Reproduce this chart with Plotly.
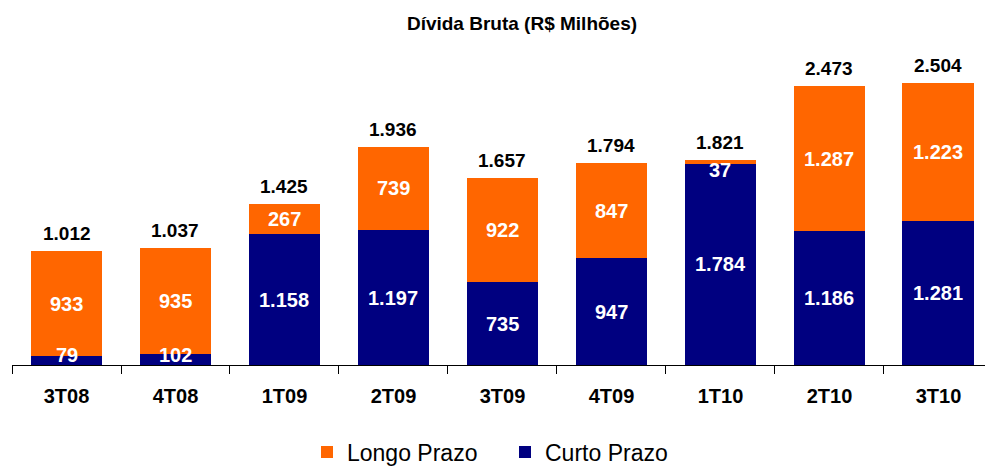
import plotly.graph_objects as go

categories = ["3T08", "4T08", "1T09", "2T09", "3T09", "4T09", "1T10", "2T10", "3T10"]
curto_prazo = [79, 102, 1158, 1197, 735, 947, 1784, 1186, 1281]
longo_prazo = [933, 935, 267, 739, 922, 847, 37, 1287, 1223]
totals = [1012, 1037, 1425, 1936, 1657, 1794, 1821, 2473, 2504]

ORANGE = "#FF6600"
NAVY = "#000080"
FONT = "Arial, Liberation Sans, sans-serif"
Y_MAX = 2795
HALF_LABEL = 88  # half label height in data units (keeps labels inside the bar, like Excel)
PLOT_LEFT, PLOT_TOP, PLOT_BOTTOM = 12, 50, 365
W, H = 985, 467


def fmt(v):
    return f"{v:,}".replace(",", ".")


def clamp(v, lo, hi):
    return max(lo, min(hi, v))


fig = go.Figure()
fig.add_trace(go.Bar(x=categories, y=curto_prazo, name="Curto Prazo", marker_color=NAVY,
                     marker_line_width=0, width=0.66, legendrank=2, hoverinfo="skip"))
fig.add_trace(go.Bar(x=categories, y=longo_prazo, name="Longo Prazo", marker_color=ORANGE,
                     marker_line_width=0, width=0.66, legendrank=1, hoverinfo="skip"))

seg_font = dict(family=FONT, size=20, color="white", weight="bold")
for cat, c, l, t in zip(categories, curto_prazo, longo_prazo, totals):
    y_c = clamp(c / 2, HALF_LABEL, t - HALF_LABEL)
    y_l = clamp(c + l / 2, HALF_LABEL, t - HALF_LABEL)
    fig.add_annotation(x=cat, y=y_c, text=fmt(c), showarrow=False, font=seg_font,
                       xanchor="center", yanchor="middle")
    fig.add_annotation(x=cat, y=y_l, text=fmt(l), showarrow=False, font=seg_font,
                       xanchor="center", yanchor="middle")
    fig.add_annotation(x=cat, y=t, text=fmt(t), showarrow=False, yshift=5,
                       font=dict(family=FONT, size=19, color="black", weight="bold"),
                       xanchor="center", yanchor="bottom")

plot_h = PLOT_BOTTOM - PLOT_TOP
plot_w = W - PLOT_LEFT
fig.update_layout(
    barmode="stack",
    width=W, height=H,
    margin=dict(l=PLOT_LEFT, r=0, t=PLOT_TOP, b=H - PLOT_BOTTOM, autoexpand=False),
    plot_bgcolor="white", paper_bgcolor="white",
    font=dict(family=FONT, color="black"),
    title=dict(text="<b>Dívida Bruta (R$ Milhões)</b>", x=522 / W, xanchor="center",
               y=1 - 23 / H, yanchor="middle", font=dict(size=19, color="black")),
    legend=dict(orientation="h", x=(307 - PLOT_LEFT) / plot_w, xanchor="left",
                y=(PLOT_BOTTOM - 452) / plot_h, yanchor="middle",
                font=dict(size=23, color="black"), itemwidth=30,
                entrywidth=153, entrywidthmode="pixels",
                traceorder="normal"),
    xaxis=dict(range=[-0.5, 8.427], showline=True, linecolor="black", linewidth=1,
               ticks="outside", tickson="boundaries", ticklen=8, tickcolor="black",
               tickfont=dict(size=20, color="black", weight="bold"), ticklabelstandoff=13,
               showgrid=False, zeroline=False, fixedrange=True),
    yaxis=dict(range=[0, Y_MAX], visible=False, showgrid=False, zeroline=False, fixedrange=True),
)

fig.write_html("out.html", config={"displayModeBar": False},
               post_script="document.body.style.margin='0';document.body.style.overflow='hidden';")
